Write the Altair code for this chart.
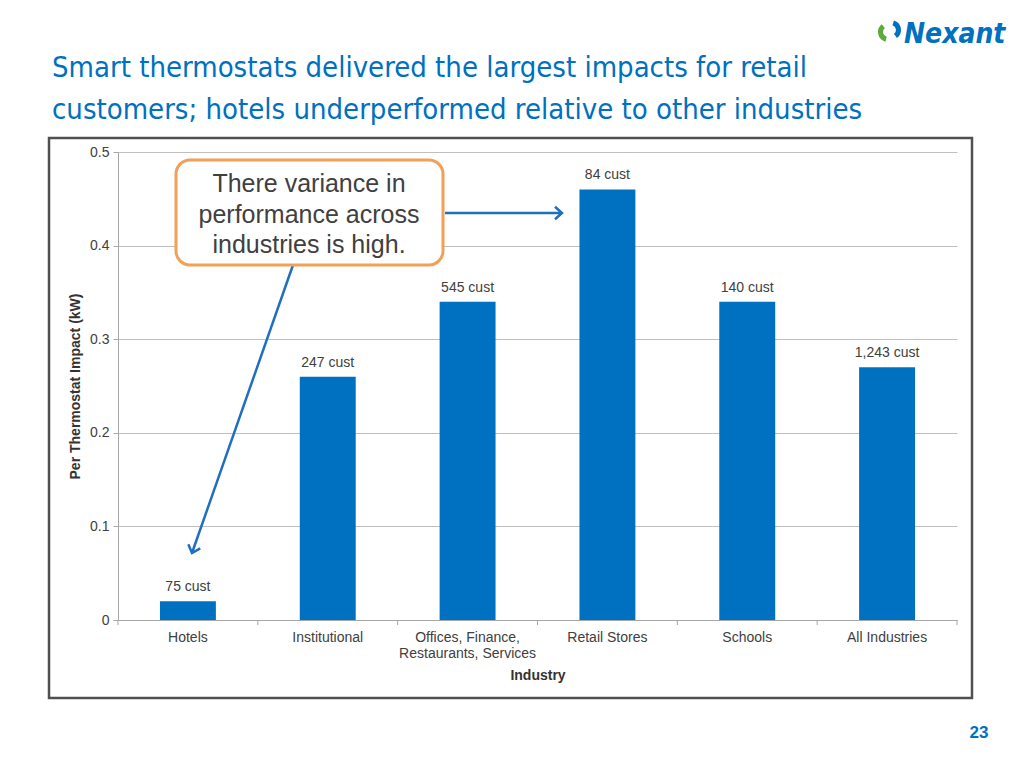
import altair as alt
import pandas as pd

# ---------------- data ----------------
industries = [
    "Hotels",
    "Institutional",
    "Offices, Finance, Restaurants, Services",
    "Retail Stores",
    "Schools",
    "All Industries",
]
impacts = [0.02, 0.26, 0.34, 0.46, 0.34, 0.27]
cust_labels = ["75 cust", "247 cust", "545 cust", "84 cust", "140 cust", "1,243 cust"]
y_ticks = [0, 0.1, 0.2, 0.3, 0.4, 0.5]

title_lines = [
    "Smart thermostats delivered the largest impacts for retail",
    "customers; hotels underperformed relative to other industries",
]
callout_lines = ["There variance in", "performance across", "industries is high."]
logo_text = "Nexant"
page_number = "23"

# ---------------- layout ----------------
W, H = 839, 468
PL, PT = 110, 144
TOTAL_W, TOTAL_H = 1008, 750
STEP = W / len(industries)

BLUE = "#0070C0"
TEXT_GRAY = "#404040"
AXIS_GRAY = "#a6a6a6"
FONT = "Liberation Sans"
NARROW = "DejaVu Sans Condensed"
FS = 14

df = pd.DataFrame({"industry": industries, "impact": impacts, "label": cust_labels})
one = alt.Data(values=[{"k": 1}])

label_expr = (
    "datum.value == 'Offices, Finance, Restaurants, Services' ? "
    "['Offices, Finance,', 'Restaurants, Services'] : datum.value"
)

x_enc = alt.X(
    "industry:N",
    sort=industries,
    scale=alt.Scale(paddingInner=0.6, paddingOuter=0.3),
    axis=alt.Axis(
        title="Industry",
        labelAngle=0,
        ticks=False,
        labelPadding=10,
        labelExpr=label_expr,
        labelLimit=300,
        labelLineHeight=16,
        labelFontSize=FS,
        labelColor=TEXT_GRAY,
        labelFont=FONT,
        titleFont=FONT,
        titleFontSize=FS,
        titleFontWeight="bold",
        titleColor="#333333",
        titlePadding=8,
        domainColor=AXIS_GRAY,
        grid=False,
    ),
)
y_enc = alt.Y(
    "impact:Q",
    scale=alt.Scale(domain=[0, 0.5], nice=False),
    axis=alt.Axis(
        title="Per Thermostat Impact (kW)",
        values=y_ticks,
        format="~g",
        tickSize=5,
        tickColor=AXIS_GRAY,
        domainColor=AXIS_GRAY,
        gridColor="#bfbfbf",
        labelPadding=4,
        labelFontSize=FS,
        labelColor=TEXT_GRAY,
        labelFont=FONT,
        titleFont=FONT,
        titleFontSize=FS,
        titleFontWeight="bold",
        titleColor="#333333",
        titlePadding=7,
    ),
)

frame = alt.Chart(one).mark_rect(
    fill="transparent", stroke="#505050", strokeWidth=2.5
).encode(
    x=alt.value(-69), x2=alt.value(854), y=alt.value(-14), y2=alt.value(546)
)

bars = alt.Chart(df).mark_bar(color=BLUE).encode(x=x_enc, y=y_enc)

labels = alt.Chart(df).mark_text(
    baseline="bottom", dy=-7, fontSize=FS, font=FONT, color=TEXT_GRAY
).encode(
    x=alt.X("industry:N", sort=industries),
    y="impact:Q",
    text="label:N",
)

xticks = alt.Chart(df).mark_rule(color=AXIS_GRAY).encode(
    x=alt.X("industry:N", sort=industries, bandPosition=0),
    xOffset=alt.value(-0.3 * STEP),
    y=alt.value(H),
    y2=alt.value(H + 5),
)
xtick_end = alt.Chart(one).mark_rule(color=AXIS_GRAY).encode(
    x=alt.value(W), y=alt.value(H), y2=alt.value(H + 5)
)

title = alt.Chart(one).mark_text(
    align="left", baseline="alphabetic", fontSize=29, font=NARROW,
    color=BLUE, lineHeight=42
).encode(x=alt.value(-66), y=alt.value(-75), text=alt.value(title_lines))

callout_box = alt.Chart(one).mark_rect(
    fill="white", stroke="#F2A057", strokeWidth=3, cornerRadius=14
).encode(x=alt.value(58), x2=alt.value(325), y=alt.value(8), y2=alt.value(113))

callout_text = alt.Chart(one).mark_text(
    align="center", baseline="middle", fontSize=25, font=FONT,
    color=TEXT_GRAY, lineHeight=30.5
).encode(x=alt.value(191), y=alt.value(32), text=alt.value(callout_lines))

ARROW = "#1F6FC0"
arrow1 = alt.Chart(one).mark_rule(color=ARROW, strokeWidth=2.5).encode(
    x=alt.value(327), x2=alt.value(443), y=alt.value(61), y2=alt.value(61)
)
arrow2 = alt.Chart(one).mark_rule(color=ARROW, strokeWidth=2.5).encode(
    x=alt.value(175), x2=alt.value(74), y=alt.value(113), y2=alt.value(401)
)
head_shape = "M-1,-0.9 L0,0 L-1,0.9"
head1 = alt.Chart(one).mark_point(
    shape=head_shape, filled=False, stroke=ARROW, strokeWidth=2.5, size=196, angle=0, opacity=1
).encode(x=alt.value(444), y=alt.value(61))
head2 = alt.Chart(one).mark_point(
    shape=head_shape, filled=False, stroke=ARROW, strokeWidth=2.5, size=196, angle=109, opacity=1
).encode(x=alt.value(74), y=alt.value(401))

logo_green = alt.Chart(one).mark_arc(color="#5BAA3C").encode(
    x=alt.value(770), y=alt.value(-120),
    theta=alt.value(3.4), theta2=alt.value(5.6),
    radius=alt.value(10), radius2=alt.value(5),
)
logo_blue = alt.Chart(one).mark_arc(color=BLUE).encode(
    x=alt.value(773), y=alt.value(-122),
    theta=alt.value(0.3), theta2=alt.value(2.5),
    radius=alt.value(10), radius2=alt.value(5),
)
logo = alt.Chart(one).mark_text(
    align="left", baseline="alphabetic", fontSize=28, font=NARROW,
    fontWeight="bold", fontStyle="italic", color=BLUE
).encode(x=alt.value(786), y=alt.value(-109), text=alt.value(logo_text))

page = alt.Chart(one).mark_text(
    align="center", baseline="middle", fontSize=17, font=FONT,
    fontWeight="bold", color=BLUE
).encode(x=alt.value(861), y=alt.value(581), text=alt.value(page_number))

chart = alt.layer(
    frame, bars, xticks, xtick_end, labels,
    title, arrow1, arrow2, head1, head2, callout_box, callout_text,
    logo_green, logo_blue, logo, page,
).properties(
    width=W,
    height=H,
    autosize=alt.AutoSizeParams(type="none"),
    padding={"left": PL, "top": PT, "right": TOTAL_W - PL - W, "bottom": TOTAL_H - PT - H},
    background="white",
).configure_view(stroke=None)

chart.save("out.html", embed_options={"renderer": "svg", "actions": False})
